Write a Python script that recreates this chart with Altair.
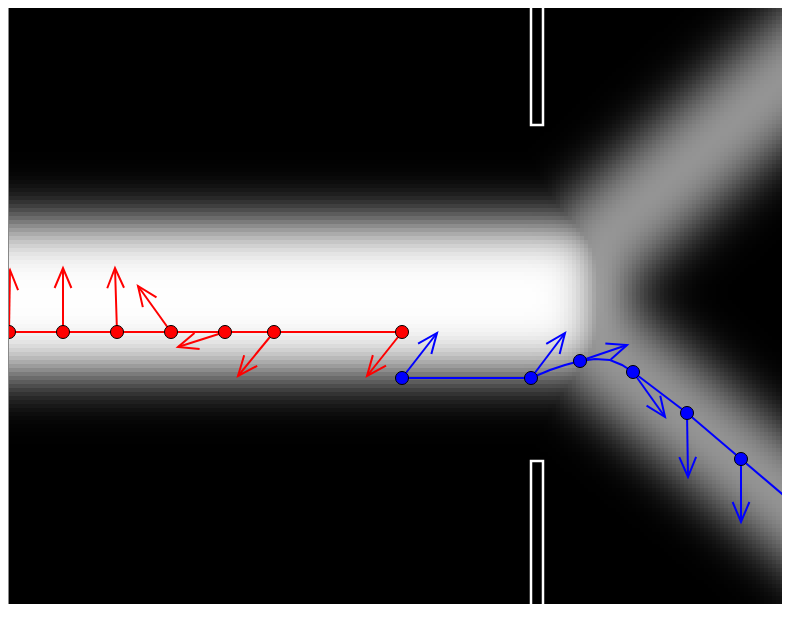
import math
import numpy as np
import pandas as pd
import altair as alt

alt.data_transformers.disable_max_rows()

# visible window, in the reference picture's pixel coordinates
X_MIN, X_MAX = 8, 782
Y_MIN, Y_MAX = 8, 604
W = X_MAX - X_MIN
H = Y_MAX - Y_MIN

# ---- waveguide geometry (background image) ----
trunk_center_y = 298
trunk_half_width = 75
trunk_end_x = 604
trunk_level = 1.0
branch_start_x = [560, 560]
branch_start_y = [278, 314]
branch_slope = [-0.89, 0.82]
branch_half_width = 49
branch_level = 0.61
blur = 25
cell = 4

# ---- slits ----
slit_x0 = [531, 531]
slit_x1 = [543, 543]
slit_y0 = [-5, 461]
slit_y1 = [125, 640]

# ---- red series: points and arrow tips ----
red_x = [9, 63, 117, 171, 225, 274, 402]
red_y = [332, 332, 332, 332, 332, 332, 332]
red_tx = [10, 63, 115, 138, 178, 238, 367]
red_ty = [270, 268, 268, 286, 347, 376, 376]

# ---- blue series: points and arrow tips ----
blue_x = [402, 531, 580, 633, 687, 741, 795]
blue_y = [378, 378, 361, 372, 413, 459, 505]
blue_tx = [437, 565, 627, 665, 688, 741, 795]
blue_ty = [333, 333, 345, 417, 477, 522, 568]

# blue trajectory (line)
blue_path_x = [402, 531, 550, 565, 580, 595, 610, 622, 633, 687, 741, 795]
blue_path_y = [378, 378, 370, 365, 361, 359, 360, 365, 372, 413, 459, 505]

RED = "#ff0000"
BLUE = "#0000ff"

# ---- background field (blurred guide mask) ----
erf = np.vectorize(math.erf)


def band(d, hw, s):
    k = s * math.sqrt(2)
    return 0.5 * (erf((hw - d) / k) + erf((hw + d) / k))


def step(t, s):
    return 0.5 * (1 + erf(t / (s * math.sqrt(2))))


cx = np.arange(X_MIN, X_MAX, cell) + cell / 2
cy = np.arange(Y_MIN, Y_MAX, cell) + cell / 2
gx, gy = np.meshgrid(cx, cy)
trunk = trunk_level * band(gy - trunk_center_y, trunk_half_width, blur) * step(trunk_end_x - gx, blur)
branches = np.zeros_like(gx)
for sx, sy, m in zip(branch_start_x, branch_start_y, branch_slope):
    n = math.hypot(1.0, m)
    ux, uy = 1.0 / n, m / n
    t = (gx - sx) * ux + (gy - sy) * uy
    d = -(gx - sx) * uy + (gy - sy) * ux
    branches = branches + band(d, branch_half_width, blur) * step(t, blur)
field = np.maximum(trunk, branch_level * np.clip(branches, 0, 1))
field = np.clip(field, 0, 1)
gray = np.round(field * 255).astype(int).ravel()
bg = pd.DataFrame({
    "x0": (gx - cell / 2).ravel(),
    "x1": (gx + cell / 2 + 0.8).ravel(),
    "y0": (gy - cell / 2).ravel(),
    "y1": (gy + cell / 2 + 0.8).ravel(),
    "c": ["#%02x%02x%02x" % (g, g, g) for g in gray],
})

xscale = alt.Scale(domain=[X_MIN, X_MAX], nice=False, zero=False)
yscale = alt.Scale(domain=[Y_MIN, Y_MAX], nice=False, zero=False, reverse=True)


def X(f):
    return alt.X(f, type="quantitative", scale=xscale, axis=None)


def Y(f):
    return alt.Y(f, type="quantitative", scale=yscale, axis=None)


background = alt.Chart(bg).mark_rect(clip=True, strokeWidth=0).encode(
    x=X("x0"), x2="x1", y=Y("y0"), y2="y1", fill=alt.Fill("c:N", scale=None)
)

slits = alt.Chart(pd.DataFrame({"x0": slit_x0, "x1": slit_x1, "y0": slit_y0, "y1": slit_y1})).mark_rect(
    clip=True, fill="black", stroke="white", strokeWidth=2.5
).encode(x=X("x0"), x2="x1", y=Y("y0"), y2="y1")

ARROW = "M-0.42,1L0,0L0.42,1"


def series(px, py, tx, ty, lx, ly, color):
    pts = pd.DataFrame({"x": px, "y": py, "tx": tx, "ty": ty})
    path = pd.DataFrame({"x": lx, "y": ly, "i": list(range(len(lx)))})
    line = alt.Chart(path).mark_line(color=color, strokeWidth=2, clip=True).encode(
        x=X("x"), y=Y("y"), order=alt.Order("i:Q")
    )
    shafts = alt.Chart(pts).mark_rule(color=color, strokeWidth=2, clip=True).encode(
        x=X("x"), y=Y("y"), x2="tx", y2="ty"
    )
    heads = alt.Chart(pts).transform_calculate(
        ang="(atan2(datum.tx - datum.x, datum.y - datum.ty) * 180 / PI + 360) % 360"
    ).mark_point(
        shape=ARROW, size=1600, filled=False, stroke=color, strokeWidth=2, opacity=1, clip=True
    ).encode(x=X("tx"), y=Y("ty"), angle=alt.Angle("ang:Q", scale=None))
    dots = alt.Chart(pts).mark_point(
        shape="circle", filled=True, fill=color, stroke="black", strokeWidth=1, size=170, opacity=1, clip=True
    ).encode(x=X("x"), y=Y("y"))
    return [line, shafts, heads, dots]


red_layers = series(red_x, red_y, red_tx, red_ty, [red_x[0], red_x[-1]], [red_y[0], red_y[-1]], RED)
blue_layers = series(blue_x, blue_y, blue_tx, blue_ty, blue_path_x, blue_path_y, BLUE)

frame = alt.Chart(pd.DataFrame({"a": [0]})).mark_rule(color="#888888", strokeWidth=1).encode(
    x=alt.value(0.5), y=alt.value(0), y2=alt.value(H)
)

chart = alt.layer(background, slits, *red_layers, *blue_layers, frame).properties(
    width=W, height=H, padding=0, autosize=alt.AutoSizeParams(type="none")
).configure_view(strokeWidth=0)

chart.save("out.html", embed_options={"renderer": "svg", "actions": False})
